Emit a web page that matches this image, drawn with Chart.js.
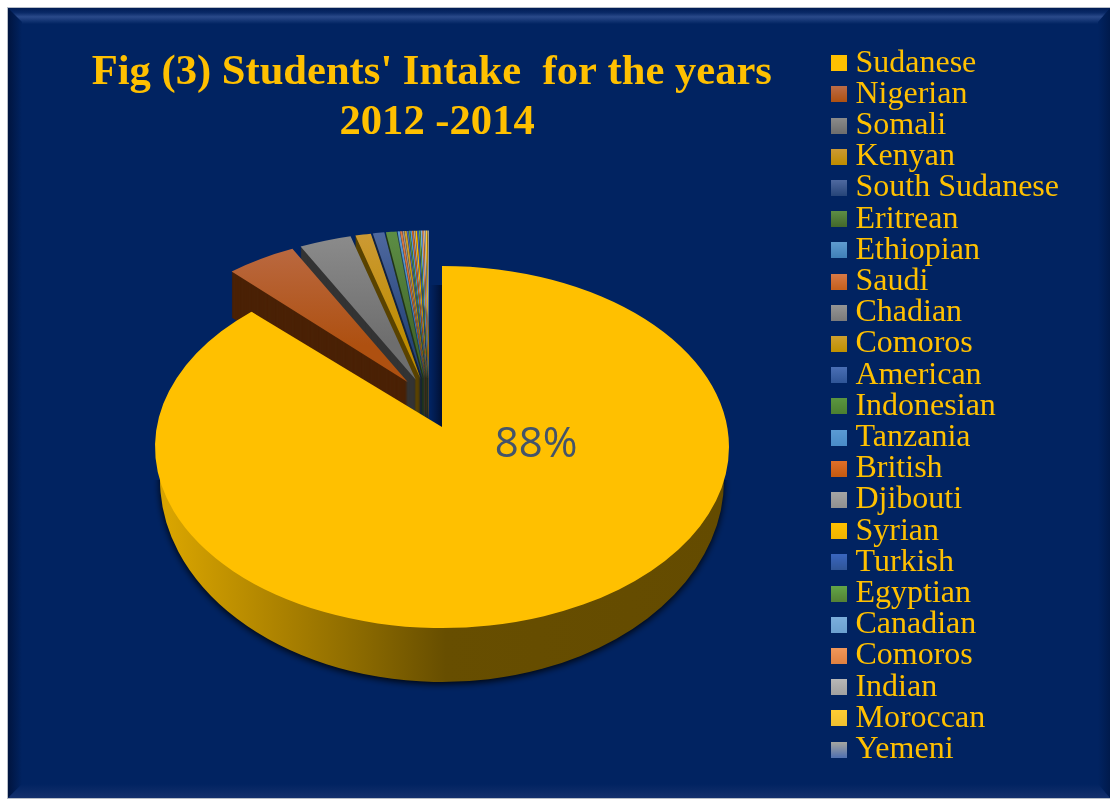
<!DOCTYPE html>
<html><head><meta charset="utf-8">
<style>html,body{margin:0;padding:0;background:#fff}canvas{display:block}</style>
<script src="https://cdn.jsdelivr.net/npm/chart.js@4"></script></head>
<body><canvas id="c" width="1110" height="801"></canvas>
<script>
const categories = ['Sudanese','Nigerian','Somali','Kenyan','South Sudanese','Eritrean','Ethiopian','Saudi','Chadian','Comoros','American','Indonesian','Tanzania','British','Djibouti','Syrian','Turkish','Egyptian','Canadian','Comoros','Indian','Moroccan','Yemeni'];
const shares = [88.45,4.4,3.2,0.95,0.7,0.65,0.13,0.13,0.1,0.13,0.09,0.09,0.09,0.09,0.09,0.09,0.09,0.09,0.09,0.09,0.09,0.09,0.09];
const topColors = ['#FFC000','#BC6C47','#8C8C8C','#CC9A35','#4F69A0','#5D8E45','#5F9BD0','#D87A48','#969696','#CFA02E','#4A6FB5','#5A9640','#5B9BD5','#E0702A','#A5A5A5','#FFC000','#3A66BF','#63A748','#7CAFDD','#F1975A','#B7B7B7','#FFCD33','#A8A8A0'];
const bottomColors = ['#FFC000','#AE5010','#6E6E6E','#BE8C00','#264478','#43682B','#3F7FB8','#C5601D','#7B7B7B','#BF9000','#2F5597','#4B7F30','#4A8CC8','#C55A11','#909090','#F0B400','#2F5597','#548235','#6BA0D0','#E08040','#A0A0A0','#F0C030','#5070B0'];
const sideColors = ['#654C00','#4A2105','#333333','#5A4300','#14233F','#22361A','#1F4060','#5E2E0E','#3A3A3A','#5A4300','#18294A','#25401A','#254666','#5E2B08','#454545','#6B5000','#182B4A','#2A4119','#355068','#6B3C1E','#505050','#6B5400','#283858'];

const ink = '#FFC000', navy = '#012361';
const titleLines = ["Fig (3) Students' Intake  for the years ", '2012 -2014'];

function styled(arc, color) {
  const o = Object.create(arc.options);
  Object.defineProperty(o, 'backgroundColor', {value: color});
  const a = Object.create(arc);
  a.options = o;
  return a;
}

function swatch(i) {
  const s = document.createElement('canvas');
  s.width = 16; s.height = 16;
  const c = s.getContext('2d');
  const g = c.createLinearGradient(0, 0, 0, 16);
  g.addColorStop(0, topColors[i]); g.addColorStop(1, bottomColors[i]);
  c.fillStyle = g; c.fillRect(0, 0, 16, 16);
  return s;
}

const pageFrame = {
  id: 'pageFrame',
  afterLayout(chart) {
    // swatches hang a little left of the legend box, so it must not clip them
    const lg = chart.legend;
    if (lg && lg._draw && !lg._unclipped) {
      lg._unclipped = true;
      lg.draw = function () { if (this.options.display) this._draw(); };
    }
  },
  beforeDraw(chart) {
    const c = chart.ctx, L = 8, T = 8, R = 1110, B = 798, w = 14;
    c.save();
    c.fillStyle = '#fff'; c.fillRect(0, 0, 1110, 801);
    c.fillStyle = '#B8BEC8'; c.fillRect(L - 1, T - 1, R - L + 1, B - T + 2);
    c.fillStyle = navy; c.fillRect(L, T, R - L, B - T);
    const trap = (pts, g) => { c.beginPath(); pts.forEach((p, i) => i ? c.lineTo(p[0], p[1]) : c.moveTo(p[0], p[1])); c.closePath(); c.fillStyle = g; c.fill(); };
    let g = c.createLinearGradient(0, T, 0, T + w + 2);
    g.addColorStop(0, '#001C54'); g.addColorStop(0.3, '#0A2A68'); g.addColorStop(0.55, '#2A4A8A'); g.addColorStop(1, navy);
    trap([[L, T], [R, T], [R - 10, T + w + 2], [L + w, T + w + 2]], g);
    g = c.createLinearGradient(L, 0, L + w, 0);
    g.addColorStop(0, '#00143F'); g.addColorStop(1, navy);
    trap([[L, T], [L + w, T + w], [L + w, B - w], [L, B]], g);
    g = c.createLinearGradient(R - 12, 0, R, 0);
    g.addColorStop(0, navy); g.addColorStop(1, '#001A4C');
    trap([[R, T], [R - 12, T + 14], [R - 12, B - 14], [R, B]], g);
    g = c.createLinearGradient(0, B - 14, 0, B);
    g.addColorStop(0, navy); g.addColorStop(1, '#14306C');
    trap([[L, B], [L + 14, B - 14], [R - 12, B - 14], [R, B]], g);
    c.restore();
  }
};

const pie3d = {
  id: 'pie3d',
  beforeDatasetsDraw(chart) {
    const c = chart.ctx, arcs = chart.getDatasetMeta(0).data;
    const big = arcs[0], ax = big.x, ay = big.y;
    // exploded small slices, last to first so each covers its neighbour's wall
    const gx = 429, gy = 400, sx = 265 / 287, sy = 148 / 287, ex = 38.5, ey = 21.5, depth = 46;
    for (let i = arcs.length - 1; i >= 1; i--) {
      const mid = (arcs[i].startAngle + arcs[i].endAngle) / 2;
      const px = gx + Math.cos(mid) * ex, py = gy + Math.sin(mid) * ey;
      const side = styled(arcs[i], sideColors[i]);
      for (let d = depth; d >= 1; d--) {
        c.save(); c.translate(px, py + d); c.scale(sx, sy); c.translate(-ax, -ay);
        side.draw(c); c.restore();
      }
      c.save(); c.translate(px, py); c.scale(sx, sy); c.translate(-ax, -ay);
      const g = c.createLinearGradient(0, ay - 287, 0, ay);
      g.addColorStop(0, topColors[i]); g.addColorStop(0.75, bottomColors[i]); g.addColorStop(1, bottomColors[i]);
      styled(arcs[i], g).draw(c); c.restore();
    }
    // soft shade beside the wedge cut
    const sh = c.createLinearGradient(430, 0, 442, 0);
    sh.addColorStop(0, 'rgba(0,10,40,0)'); sh.addColorStop(1, 'rgba(0,8,30,0.7)');
    c.fillStyle = sh; c.fillRect(430, 285, 12, 142);

    // big slice: wall
    const cx = 442, cy = 447, rx = big.outerRadius, ry = 181, tipY = 427;
    const wall = c.createLinearGradient(160, 0, 722, 0);
    wall.addColorStop(0, '#D8A400'); wall.addColorStop(0.2, '#AC8200'); wall.addColorStop(0.35, '#8A6900');
    wall.addColorStop(0.5, '#674E00'); wall.addColorStop(1, '#644B00');
    c.save();
    c.beginPath(); c.rect(0, 480, 1110, 321); c.clip();
    c.shadowColor = 'rgba(0,0,0,0.9)'; c.shadowBlur = 7; c.shadowOffsetY = 2;
    c.translate(cx, 480); c.scale(282 / rx, 202 / rx); c.translate(-ax, -ay);
    styled(big, wall).draw(c);
    c.restore();
    // big slice: top face
    c.save();
    c.translate(cx, cy); c.scale(1, ry / rx); c.translate(-ax, -ay);
    big.draw(c);
    c.restore();
    // the perspective lifts the visible apex above the ellipse centre
    const ex0 = cx + Math.cos(big.endAngle) * rx, ey0 = cy + Math.sin(big.endAngle) * ry;
    c.save();
    c.fillStyle = bottomColors[0];
    c.beginPath();
    c.moveTo(ex0, ey0);
    c.lineTo(cx, tipY); c.lineTo(cx + 1, cy + 5); c.lineTo(ex0 + 6, ey0 + 8); c.closePath(); c.fill();
    c.restore();
    // data label
    const total = shares.reduce((a, b) => a + b, 0);
    c.save();
    c.fillStyle = '#44546A'; c.font = '42px "Open Sans"'; c.textAlign = 'center'; c.textBaseline = 'middle';
    c.fillText(Math.round(shares[0] / total * 100) + '%', 536, 445);
    c.restore();
    return false;
  }
};

new Chart(document.getElementById('c'), {
  type: 'pie',
  data: {
    labels: categories,
    datasets: [{data: shares, backgroundColor: bottomColors, borderWidth: 0}]
  },
  options: {
    responsive: false,
    animation: false,
    radius: 287,
    layout: {padding: {left: 35, right: 41, top: 48, bottom: 0}},
    plugins: {
      tooltip: {enabled: false},
      title: {
        display: true, text: titleLines, color: ink, fullSize: false,
        font: {family: '"Liberation Serif"', size: 42.6, weight: 'bold', lineHeight: 1.174},
        padding: 0
      },
      legend: {
        position: 'right', align: 'start', fullSize: true,
        labels: {
          color: ink,
          font: {family: '"Liberation Serif"', size: 32},
          usePointStyle: true, boxWidth: 1, boxHeight: 16, padding: -0.8,
          generateLabels(chart) {
            const items = Chart.overrides.doughnut.plugins.legend.labels.generateLabels(chart);
            return items.map((it, i) => {
              it.pointStyle = swatch(i);
              it.fillStyle = bottomColors[i]; it.lineWidth = 0;
              it.fontColor = ink;
              return it;
            });
          }
        }
      }
    }
  },
  plugins: [pageFrame, pie3d]
});
</script></body></html>
